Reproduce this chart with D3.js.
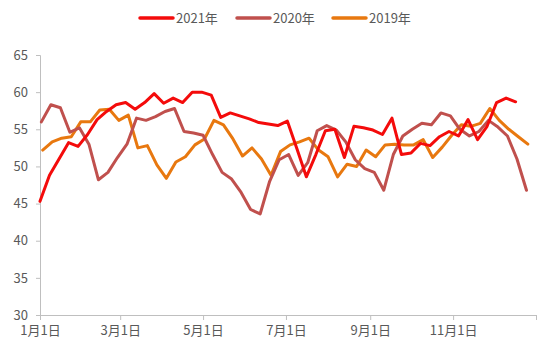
<!DOCTYPE html>
<html>
<head>
<meta charset="utf-8">
<script src="https://cdn.jsdelivr.net/npm/d3@7"></script>
<style>
  body { margin: 0; background: #fff; }
  svg text { font-family: "Noto Sans CJK SC", "Liberation Sans", sans-serif; fill: #595959; }
</style>
</head>
<body>
<svg id="chart" width="550" height="354"></svg>
<script>
// weekly readings, one array per year
var names = ['2021年', '2020年', '2019年'];
var starts = ['2019-01-01', '2019-01-02', '2019-01-03'];
var v2021 = [45.3, 48.8, 51.0, 53.2, 52.7, 54.3, 56.3, 57.4, 58.3, 58.6,
  57.7, 58.6, 59.8, 58.5, 59.2, 58.6, 60.0, 60.0, 59.6, 56.6,
  57.2, 56.8, 56.4, 55.9, 55.7, 55.5, 56.1, 52.4, 48.6, 51.6,
  54.8, 55.0, 51.2, 55.4, 55.2, 54.9, 54.3, 56.5, 51.6, 51.8,
  53.1, 52.8, 54.0, 54.7, 54.1, 56.3, 53.6, 55.4, 58.6, 59.2, 58.7];
var v2020 = [56.0, 58.3, 57.9, 54.6, 55.2, 53.0, 48.2, 49.2, 51.2, 53.0,
  56.5, 56.2, 56.7, 57.4, 57.8, 54.7, 54.5, 54.2, 51.6, 49.2,
  48.3, 46.5, 44.2, 43.6, 48.0, 50.9, 51.6, 48.8, 50.5, 54.8,
  55.5, 54.9, 53.3, 50.9, 49.7, 49.2, 46.8, 51.6, 54.1, 55.0,
  55.8, 55.6, 57.2, 56.8, 55.0, 54.1, 54.7, 56.2, 55.3, 54.1, 51.0, 46.8];
var v2019 = [52.2, 53.3, 53.8, 54.0, 56.0, 56.0, 57.6, 57.7, 56.2, 56.9,
  52.5, 52.8, 50.2, 48.4, 50.6, 51.3, 52.9, 53.7, 56.2, 55.6,
  53.7, 51.4, 52.5, 51.0, 48.8, 52.0, 52.9, 53.3, 53.8, 52.2,
  51.3, 48.6, 50.3, 50.0, 52.2, 51.3, 52.9, 53.0, 52.9, 52.9,
  53.6, 51.2, 52.6, 54.2, 55.6, 55.4, 55.8, 57.8, 56.2, 55.0, 54.0, 53.0];
var colors = ['#F40B0B', '#C0504D', '#E8780F'];
var tickMonths = [0, 2, 4, 6, 8, 10];
var tickLabels = ['1月1日', '3月1日', '5月1日', '7月1日', '9月1日', '11月1日'];
var yTicks = [30, 35, 40, 45, 50, 55, 60, 65];

InitChart();

function InitChart() {
  var svg = d3.select('#chart'),
    MARGINS = { top: 55, right: 14, bottom: 39, left: 40 },
    WIDTH = 550,
    HEIGHT = 354;

  var parse = d3.timeParse('%Y-%m-%d');
  var x = d3.scaleTime()
    .domain([new Date(2019, 0, 1), new Date(2020, 0, 1)])
    .range([MARGINS.left, WIDTH - MARGINS.right]);
  var y = d3.scaleLinear()
    .domain([30, 65])
    .range([HEIGHT - MARGINS.bottom, MARGINS.top]);

  var series = [v2021, v2020, v2019].map(function(vals, k) {
    var s = parse(starts[k]);
    return vals.map(function(v, i) {
      return { date: d3.timeDay.offset(s, 7 * i), value: v };
    });
  });

  // y axis
  var yAxis = d3.axisLeft(y).tickValues(yTicks).tickSize(4).tickPadding(8);
  var gy = svg.append('g')
    .attr('transform', 'translate(' + MARGINS.left + ',0)')
    .call(yAxis);
  gy.select('.domain').attr('stroke', '#BFBFBF');
  gy.selectAll('.tick line').attr('stroke', '#BFBFBF');
  gy.selectAll('.tick text').style('font-size', '13px').attr('fill', '#595959');

  // x axis
  var tickDates = tickMonths.map(function(m) { return new Date(2019, m, 1); });
  var xAxis = d3.axisBottom(x)
    .tickValues(tickDates.concat([new Date(2020, 0, 1)]))
    .tickFormat(function(d, i) { return tickLabels[i] || ''; })
    .tickSize(5).tickPadding(6).tickSizeOuter(0);
  var gx = svg.append('g')
    .attr('transform', 'translate(0,' + (HEIGHT - MARGINS.bottom) + ')')
    .call(xAxis);
  gx.select('.domain').attr('stroke', '#BFBFBF');
  gx.selectAll('.tick line').attr('stroke', '#BFBFBF');
  gx.selectAll('.tick text').style('font-size', '13px').attr('fill', '#595959');

  var line = d3.line()
    .x(function(d) { return x(d.date); })
    .y(function(d) { return y(d.value); });

  // draw older years first so 2021 sits on top
  [2, 1, 0].forEach(function(k) {
    svg.append('path')
      .datum(series[k])
      .attr('d', line)
      .attr('fill', 'none')
      .attr('stroke', colors[k])
      .attr('stroke-width', 3)
      .attr('stroke-linejoin', 'round')
      .attr('stroke-linecap', 'round');
  });

  // legend
  var legX = [140, 237, 333];
  var leg = svg.append('g');
  names.forEach(function(n, k) {
    leg.append('line')
      .attr('x1', legX[k]).attr('x2', legX[k] + 33)
      .attr('y1', 18).attr('y2', 18)
      .attr('stroke', colors[k])
      .attr('stroke-width', 3.5)
      .attr('stroke-linecap', 'round');
    leg.append('text')
      .attr('x', legX[k] + 36)
      .attr('y', 18)
      .attr('dy', '0.35em')
      .style('font-size', '13px')
      .text(n);
  });
}
</script>
</body>
</html>
